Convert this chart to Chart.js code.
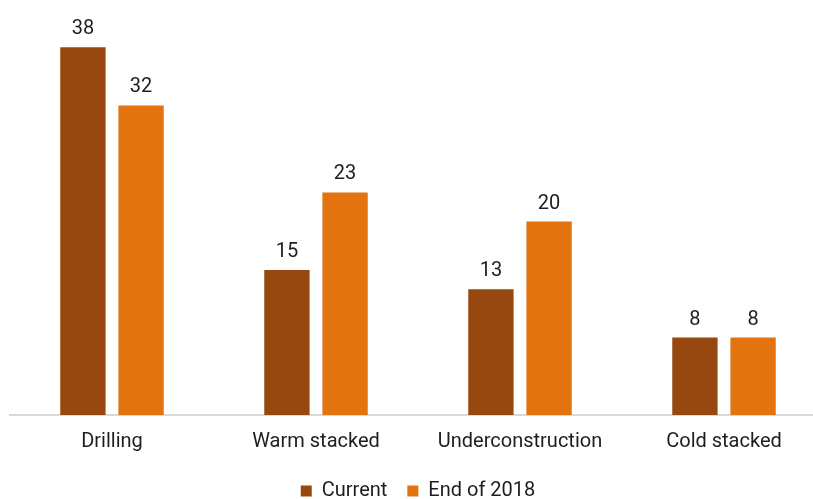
<!DOCTYPE html>
<html>
<head>
<meta charset="utf-8">
<script src="https://cdn.jsdelivr.net/npm/chart.js@4.4.0/dist/chart.umd.min.js"></script>
<style>
  html, body { margin: 0; padding: 0; background: #fff; overflow: hidden; }
  #wrap { width: 813px; height: 499px; overflow: hidden; position: relative; }
  #box { width: 830px; height: 499px; position: absolute; left: 0; top: 0; }
</style>
</head>
<body>
<div id="wrap"><div id="box"><canvas id="barChart"></canvas></div></div>
<script>
var categories = ['Drilling', 'Warm stacked', 'Underconstruction', 'Cold stacked'];
var currentValues = [38, 15, 13, 8];
var endOf2018Values = [32, 23, 20, 8];

var fontFamily = "Roboto, 'Liberation Sans', sans-serif";

// value labels above every bar
var valueLabels = {
    id: 'valueLabels',
    afterDatasetsDraw: function(chart) {
        var ctx = chart.ctx;
        ctx.save();
        ctx.font = '20px ' + fontFamily;
        ctx.fillStyle = '#1e1e1e';
        ctx.textAlign = 'center';
        ctx.textBaseline = 'bottom';
        chart.data.datasets.forEach(function(ds, i) {
            chart.getDatasetMeta(i).data.forEach(function(bar, j) {
                ctx.fillText(ds.data[j], bar.x, bar.y - 8);
            });
        });
        ctx.restore();
    }
};

barChart = document.getElementById('barChart').getContext('2d');

new Chart(barChart, {
    type: 'bar',
    data: {
        labels: categories,
        datasets: [{
            label: 'Current',
            data: currentValues,
            backgroundColor: '#96480f'
        }, {
            label: 'End of 2018',
            data: endOf2018Values,
            backgroundColor: '#e2730f'
        }]
    },
    options: {
        responsive: true,
        maintainAspectRatio: false,
        animation: false,
        datasets: {
            bar: {
                categoryPercentage: 0.57,
                barPercentage: 0.78
            }
        },
        layout: {
            padding: { left: 10, right: 4, top: 28, bottom: -12 }
        },
        scales: {
            x: {
                grid: { display: false },
                border: { display: true, color: '#d9d9d9', width: 2 },
                ticks: {
                    color: '#1e1e1e',
                    padding: 7,
                    font: { family: fontFamily, size: 20 }
                }
            },
            y: {
                display: false,
                min: 0,
                max: 40
            }
        },
        plugins: {
            tooltip: { enabled: false },
            legend: {
                position: 'bottom',
                labels: {
                    color: '#1e1e1e',
                    boxWidth: 11,
                    boxHeight: 11,
                    padding: 20,
                    font: { family: fontFamily, size: 20 }
                }
            }
        }
    },
    plugins: [valueLabels]
});
</script>
</body>
</html>
